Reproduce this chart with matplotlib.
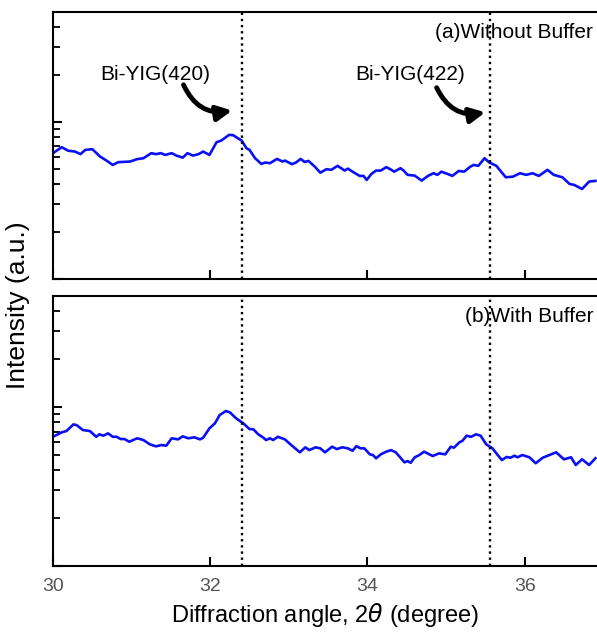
import numpy as np
import matplotlib
matplotlib.use('Agg')
import matplotlib.pyplot as plt
from matplotlib.ticker import LogLocator, NullFormatter

plt.rcParams.update({
    'font.family': ['Liberation Sans', 'DejaVu Sans'],
    'mathtext.fontset': 'dejavusans',
    'axes.linewidth': 1.5,
})

# ── Data ──────────────────────────────────────────────────────────────
# (a) without buffer
angle_a = [30.00, 30.11, 30.19, 30.28, 30.35, 30.41, 30.50, 30.60, 30.68, 30.76,
           30.83, 30.98, 31.07, 31.15, 31.25, 31.31, 31.37, 31.43, 31.51, 31.57,
           31.65, 31.71, 31.78, 31.85, 31.91, 31.99, 32.08, 32.14, 32.24, 32.29,
           32.33, 32.40, 32.46, 32.50, 32.57, 32.65, 32.70, 32.76, 32.85, 32.92,
           32.95, 33.04, 33.09, 33.15, 33.20, 33.25, 33.33, 33.40, 33.48, 33.54,
           33.62, 33.71, 33.75, 33.81, 33.90, 33.95, 33.99, 34.05, 34.11, 34.17,
           34.24, 34.29, 34.34, 34.42, 34.46, 34.51, 34.60, 34.69, 34.77, 34.84,
           34.89, 34.94, 35.02, 35.08, 35.16, 35.23, 35.30, 35.35, 35.41, 35.49,
           35.55, 35.64, 35.70, 35.76, 35.85, 35.94, 36.02, 36.10, 36.18, 36.29,
           36.37, 36.48, 36.57, 36.63, 36.73, 36.82, 36.90]
intens_a = [632, 690, 656, 647, 623, 663, 670, 601, 567, 532,
            554, 559, 579, 587, 632, 623, 632, 616, 632, 610,
            592, 632, 610, 623, 647, 616, 742, 760, 826, 823,
            799, 760, 680, 663, 587, 540, 551, 546, 581, 559,
            567, 538, 551, 581, 556, 564, 519, 475, 500, 495,
            525, 490, 504, 482, 453, 453, 427, 466, 490, 490,
            515, 500, 482, 507, 490, 460, 455, 423, 453, 471,
            460, 482, 466, 453, 487, 482, 515, 532, 525, 587,
            551, 525, 482, 444, 448, 471, 460, 471, 453, 495,
            460, 444, 403, 397, 374, 417, 421]

# (b) with buffer
angle_b = [30.00, 30.11, 30.17, 30.26, 30.30, 30.38, 30.47, 30.55, 30.59, 30.64,
           30.70, 30.76, 30.81, 30.86, 30.91, 30.97, 31.07, 31.15, 31.23, 31.31,
           31.38, 31.44, 31.51, 31.59, 31.65, 31.72, 31.80, 31.87, 31.91, 31.99,
           32.06, 32.12, 32.20, 32.25, 32.33, 32.42, 32.50, 32.55, 32.61, 32.67,
           32.71, 32.76, 32.80, 32.86, 32.95, 33.03, 33.14, 33.21, 33.26, 33.34,
           33.40, 33.46, 33.55, 33.61, 33.68, 33.75, 33.81, 33.86, 33.91, 33.96,
           34.03, 34.07, 34.11, 34.17, 34.24, 34.30, 34.36, 34.42, 34.47, 34.51,
           34.55, 34.60, 34.66, 34.72, 34.83, 34.91, 34.99, 35.06, 35.10, 35.17,
           35.21, 35.26, 35.32, 35.38, 35.44, 35.51, 35.59, 35.65, 35.71, 35.77,
           35.82, 35.87, 35.91, 35.97, 36.06, 36.14, 36.23, 36.40, 36.50, 36.59,
           36.65, 36.73, 36.82, 36.90]
intens_b = [650, 693, 706, 778, 770, 717, 706, 650, 674, 660,
            683, 650, 650, 629, 629, 605, 636, 620, 583, 566,
            577, 571, 636, 626, 654, 636, 645, 626, 641, 735,
            790, 891, 944, 926, 849, 790, 727, 724, 674, 645,
            620, 636, 620, 650, 626, 577, 519, 558, 536, 558,
            550, 519, 563, 544, 558, 550, 531, 568, 550, 550,
            504, 499, 476, 504, 524, 536, 519, 480, 449, 457,
            446, 482, 499, 524, 492, 511, 504, 563, 555, 600,
            614, 660, 650, 674, 660, 583, 550, 504, 464, 485,
            480, 494, 483, 499, 483, 443, 480, 519, 469, 483,
            432, 469, 432, 476]

peak_pos = [32.41, 35.56]
peak_names = ['Bi-YIG(420)', 'Bi-YIG(422)']
panel_titles = ['(a)Without Buffer', '(b)With Buffer']
xticks = [30, 32, 34, 36]

# ── Figure ────────────────────────────────────────────────────────────
fig = plt.figure(figsize=(5.97, 6.35), dpi=100)
ax_a = fig.add_axes([0.0888, 0.5606, 0.9112, 0.4205])
ax_b = fig.add_axes([0.0888, 0.1087, 0.9112, 0.4252])

for ax, x, y, title in zip([ax_a, ax_b], [angle_a, angle_b], [intens_a, intens_b], panel_titles):
    ax.plot(x, y, color='#0a10f5', linewidth=1.9)
    for p in peak_pos:
        ax.axvline(p, color='black', linestyle=(0, (1, 1.6)), linewidth=1.7)
    ax.set_yscale('log')
    ax.set_ylim(100, 5000)
    ax.set_xlim(30, 36.92)
    ax.yaxis.set_major_locator(LogLocator(base=10))
    ax.yaxis.set_minor_locator(LogLocator(base=10, subs=np.arange(2, 10)))
    ax.yaxis.set_major_formatter(NullFormatter())
    ax.yaxis.set_minor_formatter(NullFormatter())
    ax.set_xticks(xticks)
    ax.tick_params(axis='both', which='major', direction='in', length=6.5, width=1.5,
                   labelsize=14, labelcolor='#555555')
    ax.tick_params(axis='y', which='minor', direction='in', length=5, width=1.3)
    ax.tick_params(axis='x', pad=9)
    ax.spines['right'].set_visible(False)
    ax.text(0.993, 0.925, title, transform=ax.transAxes, ha='right', va='center',
            fontsize=15)

ax_a.tick_params(axis='x', labelbottom=False)

# peak annotations with curved arrows
ann = [((31.30, 2000), (31.66, 1720), (32.28, 1180)),
       ((34.54, 2000), (34.88, 1650), (35.50, 1150))]
for name, (txt_xy, start, end) in zip(peak_names, ann):
    ax_a.text(txt_xy[0], txt_xy[1], name, ha='center', va='center', fontsize=15)
    ax_a.annotate('', xy=end, xytext=start,
                  arrowprops=dict(arrowstyle='-|>,head_length=0.9,head_width=0.45',
                                  connectionstyle='arc3,rad=0.38',
                                  color='black', lw=3.5, shrinkA=0, shrinkB=0))

fig.text(0.03, 0.52, 'Intensity (a.u.)', rotation=90, ha='center', va='center', fontsize=19)
fig.text(0.545, 0.031, r'Diffraction angle, 2$\theta$ (degree)', ha='center', va='center',
         fontsize=17)

fig.savefig('out.png', dpi=100)
